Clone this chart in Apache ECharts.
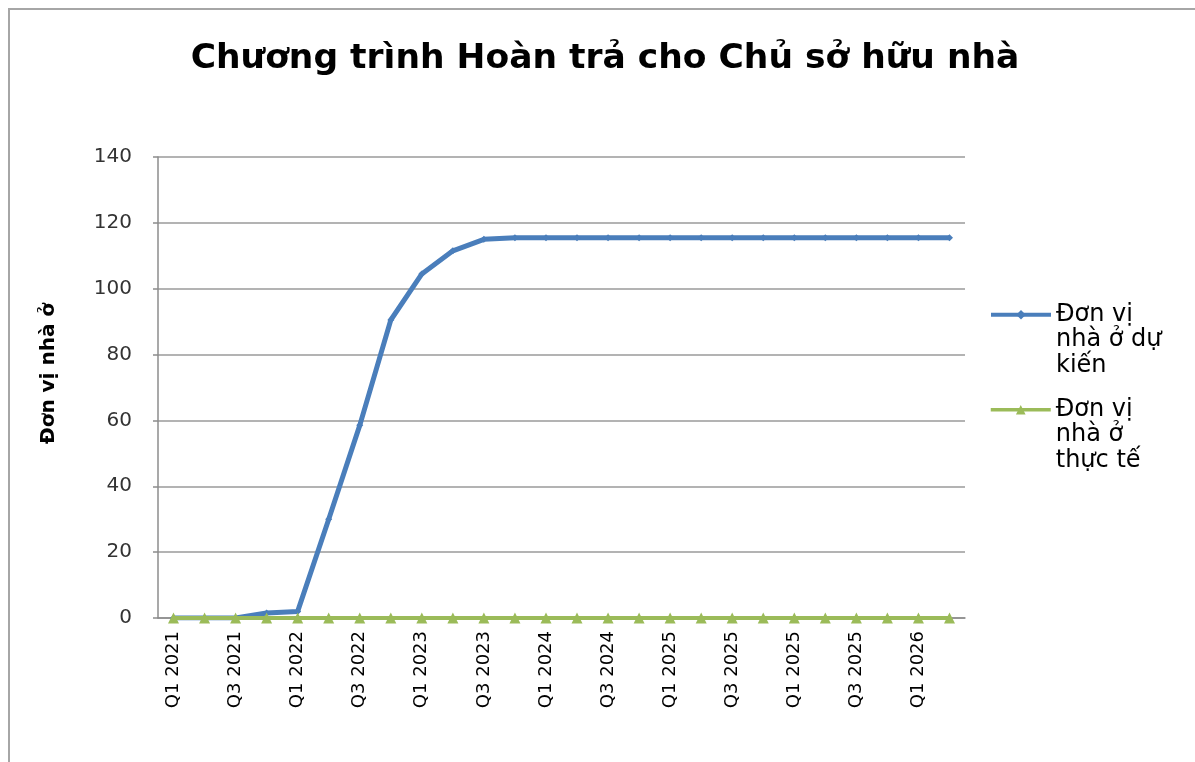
<!DOCTYPE html>
<html>
<head>
<meta charset="utf-8">
<script src="https://cdn.jsdelivr.net/npm/echarts@6/dist/echarts.min.js"></script>
<style>
  html, body { margin: 0; padding: 0; background: #fff; }
  #chart { width: 1195px; height: 762px; }
</style>
</head>
<body>
<div id="chart"></div>
<script>
// Quarters along the horizontal axis
const quarters = [
  'Q1 2021', 'Q2 2021', 'Q3 2021', 'Q4 2021',
  'Q1 2022', 'Q2 2022', 'Q3 2022', 'Q4 2022',
  'Q1 2023', 'Q2 2023', 'Q3 2023', 'Q4 2023',
  'Q1 2024', 'Q2 2024', 'Q3 2024', 'Q4 2024',
  'Q1 2025', 'Q2 2025', 'Q3 2025', 'Q4 2025',
  'Q1 2025', 'Q2 2025', 'Q3 2025', 'Q4 2025',
  'Q1 2026', 'Q2 2026'
];

// Projected housing units
const projectedUnits = [
  0, 0, 0, 1.5, 2, 30, 58.5, 90.5, 104.5, 111.5, 115, 115.5,
  115.5, 115.5, 115.5, 115.5, 115.5, 115.5, 115.5, 115.5,
  115.5, 115.5, 115.5, 115.5, 115.5, 115.5
];

// Actual housing units
const actualUnits = [
  0, 0, 0, 0, 0, 0, 0, 0, 0, 0, 0, 0, 0,
  0, 0, 0, 0, 0, 0, 0, 0, 0, 0, 0, 0, 0
];

const seriesNames = ['Đơn vị nhà ở dự kiến', 'Đơn vị nhà ở thực tế'];
// Wrapped legend text; the two leading blank lines keep the icon beside the first line
const legendLabels = ['\n\nĐơn vị\nnhà ở dự\nkiến', '\n\nĐơn vị\nnhà ở\nthực tế'];
const seriesColors = ['#4A7EBB', '#9BBB59'];

const FONT = 'DejaVu Sans';
const chart = echarts.init(document.getElementById('chart'));

// One legend block per series
function legendFor(i, top, lineWidth) {
  return {
    data: [seriesNames[i]],
    orient: 'vertical',
    left: 989,
    top: top,
    padding: 0,
    itemWidth: 60,
    itemHeight: 12,
    formatter: () => legendLabels[i],
    lineStyle: { width: lineWidth, color: seriesColors[i] },
    textStyle: {
      fontFamily: FONT,
      fontSize: 24,
      lineHeight: 25.5,
      color: '#000'
    }
  };
}

chart.setOption({
  backgroundColor: '#fff',
  animation: false,
  title: {
    text: 'Chương trình Hoàn trả cho Chủ sở hữu nhà',
    left: 600,
    textAlign: 'center',
    top: 37,
    textStyle: {
      fontFamily: FONT,
      fontWeight: 'bold',
      fontSize: 34.5,
      color: '#000'
    }
  },
  graphic: [{
    type: 'rect',
    shape: { x: 9, y: 9, width: 1400, height: 900 },
    style: { fill: 'none', stroke: '#a6a6a6', lineWidth: 2 },
    silent: true
  }],
  legend: [legendFor(0, 251, 4), legendFor(1, 346, 3.5)],
  grid: { left: 158, right: 230, top: 157, bottom: 144 },
  xAxis: {
    type: 'category',
    data: quarters,
    boundaryGap: true,
    axisLine: { lineStyle: { color: '#8c8c8c', width: 1.5 } },
    axisTick: { show: false },
    axisLabel: {
      interval: 1,
      rotate: 90,
      margin: 13,
      fontFamily: FONT,
      fontSize: 18,
      color: '#000'
    }
  },
  yAxis: {
    type: 'value',
    min: 0,
    max: 140,
    interval: 20,
    name: 'Đơn vị nhà ở',
    nameLocation: 'middle',
    nameGap: 99,
    nameTextStyle: {
      fontFamily: FONT,
      fontWeight: 'bold',
      fontSize: 20,
      color: '#000',
      padding: [0, 0, 0, 28]
    },
    axisLine: { show: true, lineStyle: { color: '#8c8c8c', width: 1.5 } },
    axisTick: { show: true, length: 5, lineStyle: { color: '#8c8c8c', width: 1.5 } },
    splitLine: { lineStyle: { color: '#9a9a9a', width: 1.5 } },
    axisLabel: {
      margin: 26,
      fontFamily: FONT,
      fontSize: 20,
      color: '#333'
    }
  },
  series: [
    {
      name: seriesNames[0],
      type: 'line',
      data: projectedUnits,
      z: 3,
      symbol: 'diamond',
      symbolSize: 7,
      lineStyle: { color: seriesColors[0], width: 5 },
      itemStyle: { color: seriesColors[0] }
    },
    {
      name: seriesNames[1],
      type: 'line',
      data: actualUnits,
      z: 4,
      symbol: 'triangle',
      symbolSize: 11,
      lineStyle: { color: seriesColors[1], width: 4 },
      itemStyle: { color: seriesColors[1] }
    }
  ]
});
</script>
</body>
</html>
